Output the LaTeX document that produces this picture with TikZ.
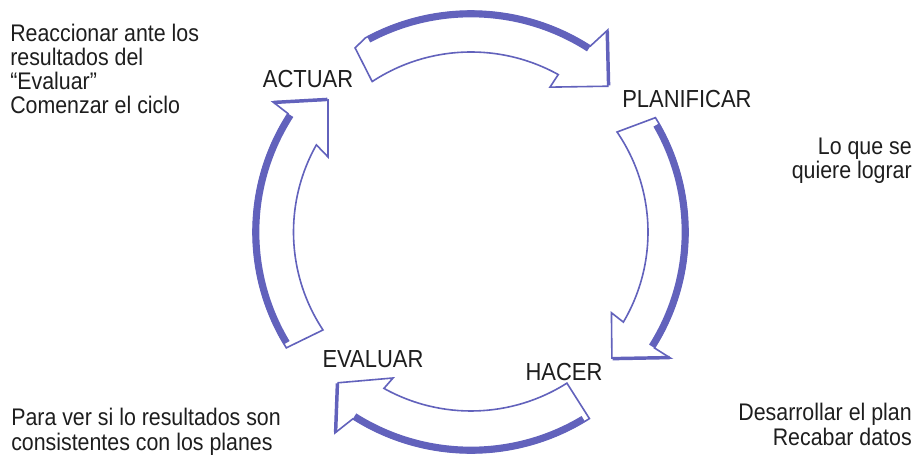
\documentclass[tikz,border=0pt]{standalone}
\usepackage{fontspec}
\setmainfont[FakeStretch=0.89]{Liberation Sans}
\definecolor{arr}{RGB}{98,98,188}
\definecolor{txt}{RGB}{30,30,30}
\begin{document}
\begin{tikzpicture}[x=0.75pt,y=0.75pt,
  arrowbody/.style={fill=white, draw=arr, line width=1.2pt, line join=miter},
  shadowline/.style={draw=arr, line width=5pt},
  barbline/.style={draw=arr, line width=2.6pt},
  lbl/.style={inner sep=0pt, text=txt, font=\fontsize{18.5}{19}\selectfont},
  desc/.style={inner sep=0pt, text=txt, font=\fontsize{18}{19}\selectfont}]
\useasboundingbox (0,0) rectangle (916,-456);
\fill[white] (0,0) rectangle (916,-456);
\begin{scope}[shift={(471,-232)}]
  % top arrow: ACTUAR -> PLANIFICAR
  \draw[arrowbody] (123.3:180) arc[start angle=123.3, end angle=61, radius=180]
     -- (61.4:165) -- (46.8:200) -- (55.9:244) -- (57.3:221)
     arc[start angle=57.3, end angle=118.6, radius=221] -- (122.2:217.5) -- cycle;
  \draw[shadowline] (57.3:218) arc[start angle=57.3, end angle=118, radius=218];
  \draw[barbline] (55.9:243) -- (46.8:201);
  % right arrow: PLANIFICAR -> HACER
  \draw[arrowbody] (34.4:177) arc[start angle=34.4, end angle=-30.6, radius=177]
     -- (-29.9:162) -- (-41.8:189) -- (-32.3:236) -- (-32.3:217)
     arc[start angle=-32.3, end angle=31.8, radius=217] -- cycle;
  \draw[shadowline] (-32.3:214) arc[start angle=-32.3, end angle=30, radius=214];
  \draw[barbline] (-32.3:235) -- (-41.8:190);
  % bottom arrow: HACER -> EVALUAR
  \draw[arrowbody] (-57.6:179) arc[start angle=-57.6, end angle=-119.1, radius=179]
     -- (-118.1:165.5) -- (-131.4:201) -- (-124.1:242.7) -- (-122.3:221)
     arc[start angle=-122.3, end angle=-57.6, radius=221] -- cycle;
  \draw[shadowline] (-122.3:218) arc[start angle=-122.3, end angle=-59, radius=218];
  \draw[barbline] (-124.1:241.5) -- (-131.4:202);
  % left arrow: EVALUAR -> ACTUAR
  \draw[arrowbody] (213.5:177.5) arc[start angle=213.5, end angle=150.6, radius=177.5]
     -- (152.3:161.5) -- (137.3:194.6) -- (146.7:237) -- (147.1:218)
     arc[start angle=147.1, end angle=212.1, radius=218] -- cycle;
  \draw[shadowline] (147.1:215) arc[start angle=147.1, end angle=211, radius=215];
  \draw[barbline] (146.7:236) -- (137.3:195.5);
\end{scope}
% stage labels
\node[lbl, anchor=base] (actuar) at (308,-88) {ACTUAR};
\node[lbl, anchor=base west] (planificar) at (622,-108) {PLANIFICAR};
\node[lbl, anchor=base] (hacer) at (564,-380) {HACER};
\node[lbl, anchor=base] (evaluar) at (373,-367) {EVALUAR};
% descriptions
\node[desc, anchor=base west] (d1a) at (10,-42) {Reaccionar ante los};
\node[desc, anchor=base west] (d1b) at (10,-66) {resultados del};
\node[desc, anchor=base west] (d1c) at (10,-90) {“Evaluar”};
\node[desc, anchor=base west] (d1d) at (10,-114) {Comenzar el ciclo};
\node[desc, anchor=base east] (d2a) at (912,-155) {Lo que se};
\node[desc, anchor=base east] (d2b) at (912,-178) {quiere lograr};
\node[desc, anchor=base west] (d3a) at (11,-425) {Para ver si lo resultados son};
\node[desc, anchor=base west] (d3b) at (11,-450) {consistentes con los planes};
\node[desc, anchor=base east] (d4a) at (912,-420) {Desarrollar el plan};
\node[desc, anchor=base east] (d4b) at (912,-445) {Recabar datos};
\end{tikzpicture}
\end{document}
